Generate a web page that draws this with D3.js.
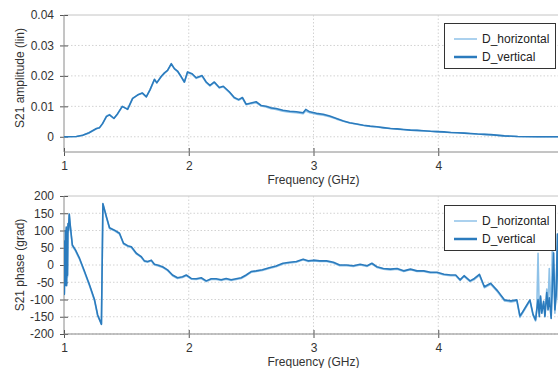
<!DOCTYPE html>
<html><head><meta charset="utf-8">
<script src="https://cdn.jsdelivr.net/npm/d3@7"></script>
<style>
body{margin:0;background:#fff;}
svg{display:block;font-family:"Liberation Sans",Arial,sans-serif;}
</style></head><body>
<svg id="c" width="558" height="368"></svg>
<script>
// ---------- data ----------
const seriesNames = ["D_horizontal", "D_vertical"];
const xTicks = [1, 2, 3, 4];
const ampTicks = [0, 0.01, 0.02, 0.03, 0.04];
const ampTickLabels = ["0", "0.01", "0.02", "0.03", "0.04"];
const phaseTicks = [-200, -150, -100, -50, 0, 50, 100, 150, 200];

const freqAmp = [1.0,1.1,1.15,1.2,1.26,1.285,1.31,1.34,1.365,1.4,1.43,1.467,1.51,1.55,1.59,1.627,1.66,1.69,1.725,1.744,1.78,1.805,1.83,1.86,1.885,1.91,1.94,1.965,1.99,2.027,2.06,2.107,2.14,2.17,2.205,2.245,2.277,2.325,2.365,2.4,2.43,2.46,2.5,2.54,2.58,2.62,2.66,2.70,2.755,2.81,2.863,2.917,2.938,2.97,3.024,3.078,3.13,3.185,3.24,3.29,3.347,3.40,3.454,3.508,3.56,3.616,3.67,3.723,3.777,3.83,3.884,3.938,3.99,4.046,4.1,4.153,4.207,4.26,4.315,4.37,4.422,4.53,4.637,4.8,5.0];
const ampVertical = [0,0.0001,0.0005,0.0013,0.0027,0.003,0.0044,0.0066,0.0072,0.006,0.0076,0.01,0.009,0.0126,0.0137,0.0144,0.0131,0.0155,0.0189,0.0177,0.0199,0.021,0.0218,0.024,0.0224,0.0216,0.0197,0.018,0.0213,0.0207,0.0194,0.0201,0.018,0.0169,0.018,0.0162,0.0166,0.0148,0.0129,0.0122,0.0129,0.0107,0.0111,0.0115,0.0103,0.01,0.0095,0.0093,0.0087,0.0084,0.0082,0.0079,0.009,0.0082,0.0077,0.0074,0.0068,0.006,0.0052,0.0046,0.0042,0.0038,0.0035,0.0033,0.003,0.0027,0.0026,0.0024,0.0022,0.0021,0.002,0.0018,0.0017,0.0016,0.0014,0.0013,0.0012,0.0011,0.0009,0.0008,0.0007,0.0003,0.0001,0,0];
const ampHorizontal = [0,0.0001,0.0005,0.0012,0.0026,0.003,0.0043,0.0068,0.0073,0.0061,0.0075,0.0099,0.0091,0.0125,0.0138,0.0143,0.0132,0.0154,0.0187,0.0178,0.0197,0.0208,0.0217,0.0238,0.0223,0.0214,0.0196,0.0179,0.0211,0.0205,0.0192,0.0199,0.0178,0.0167,0.0178,0.016,0.0164,0.0146,0.0127,0.012,0.0127,0.0105,0.0109,0.0112,0.0101,0.0098,0.0092,0.009,0.0084,0.0081,0.0079,0.0076,0.0085,0.0079,0.0074,0.0071,0.0066,0.0058,0.0051,0.0045,0.0041,0.0037,0.0034,0.0032,0.0029,0.0027,0.0025,0.0023,0.0022,0.0021,0.0019,0.0018,0.0017,0.0015,0.0014,0.0013,0.0012,0.001,0.0009,0.0008,0.0006,0.0003,0.0001,0,0];

const freqPhase = [1.0,1.003,1.006,1.009,1.012,1.015,1.018,1.021,1.025,1.028,1.032,1.036,1.042,1.05,1.067,1.093,1.125,1.165,1.205,1.245,1.27,1.30,1.312,1.34,1.365,1.405,1.445,1.477,1.51,1.54,1.58,1.62,1.645,1.67,1.70,1.725,1.75,1.79,1.83,1.87,1.91,1.95,1.98,2.02,2.06,2.10,2.14,2.18,2.22,2.26,2.30,2.34,2.38,2.42,2.46,2.50,2.54,2.59,2.645,2.70,2.755,2.81,2.863,2.917,2.957,3.0,3.05,3.105,3.16,3.21,3.266,3.32,3.374,3.43,3.468,3.508,3.56,3.616,3.67,3.723,3.777,3.83,3.884,3.938,3.99,4.046,4.10,4.14,4.175,4.207,4.255,4.29,4.33,4.37,4.42,4.476,4.53,4.583,4.63,4.655,4.675,4.71,4.735,4.76,4.78,4.79,4.80,4.81,4.82,4.83,4.845,4.855,4.87,4.88,4.89,4.905,4.915,4.925,4.935,4.945,4.955,4.965,4.98];
const phaseVertical = [60,-85,70,-60,100,-55,110,-60,95,-30,120,100,148,116,58,43,19,-19,-58,-101,-145,-172,178,140,108,101,92,63,56,53,34,24,12,10,14,2,0,-5,-14,-29,-37,-34,-29,-39,-40,-37,-46,-40,-40,-43,-39,-43,-40,-37,-29,-19,-17,-14,-8,-3,5,8,10,17,12,14,12,12,8,0,0,-2,2,-2,5,-5,-10,-12,-10,-17,-12,-17,-17,-21,-21,-27,-29,-29,-43,-31,-46,-39,-27,-63,-53,-75,-101,-104,-101,-148,-137,-116,-101,-143,-159,-130,-100,-150,-90,-140,-105,-150,-80,-130,-95,-155,-60,35,-130,-90,90,-100,-50];
const phaseHorizontal = [55,-80,65,-55,95,-50,105,-55,90,-35,115,95,145,113,55,40,16,-22,-61,-104,-148,-170,176,138,106,99,90,61,54,51,32,22,10,8,12,0,-2,-7,-16,-31,-39,-36,-31,-41,-42,-39,-48,-42,-42,-45,-41,-45,-42,-39,-31,-21,-19,-16,-10,-5,3,6,8,15,10,12,10,10,6,-2,-2,-4,0,-4,3,-7,-12,-14,-12,-19,-14,-19,-19,-23,-23,-29,-31,-31,-45,-33,-48,-42,-30,-66,-56,-78,-104,-107,-104,-152,-140,-119,-104,-146,-162,-125,34,-140,-95,-130,-110,-145,-70,-120,-10,-150,63,-20,-140,-60,40,-110,-30];

// ---------- drawing ----------
const colH = "#8fc2e8", colV = "#2b7bbd";
const svg = d3.select("#c");
const x = d3.scaleLinear().domain([1, 5]).range([64, 563]);

function panel(cfg) {
  const y = d3.scaleLinear().domain(cfg.ydom).range(cfg.yrange);
  const g = svg.append("g");
  const top = cfg.yrange[1], bottom = cfg.yrange[0];
  // grid
  g.selectAll(".hg").data(cfg.yticks).enter().append("line")
    .attr("x1", 64).attr("x2", 563).attr("y1", d => y(d)).attr("y2", d => y(d))
    .attr("stroke", (d, i) => i === cfg.yticks.length - 1 ? "#c4c4c4" : "#d2d2d2")
    .attr("stroke-dasharray", (d, i) => i === cfg.yticks.length - 1 ? null : "1.5,2");
  g.selectAll(".vg").data(xTicks.slice(1)).enter().append("line")
    .attr("x1", d => x(d)).attr("x2", d => x(d)).attr("y1", top).attr("y2", bottom)
    .attr("stroke", "#d2d2d2").attr("stroke-dasharray", "1.5,2");
  // axes
  const ya = g.append("g").attr("transform", "translate(64,0)")
    .call(d3.axisLeft(y).tickValues(cfg.yticks).tickFormat((d, i) => cfg.ylabels[i]).tickSizeOuter(0).tickSize(4).tickPadding(6));
  ya.select(".domain").remove();
  ya.selectAll(".tick line").attr("x1", 4).attr("x2", -4).attr("stroke", "#555");
  ya.selectAll("text").attr("font-size", 12).attr("fill", "#333").attr("font-family", "Liberation Sans, Arial, sans-serif");
  g.append("line").attr("x1", 64).attr("x2", 64).attr("y1", top).attr("y2", bottom).attr("stroke", "#8a8a8a");
  const xa = g.append("g").attr("transform", `translate(0,${bottom})`)
    .call(d3.axisBottom(x).tickValues(xTicks).tickFormat(d3.format("d")).tickSizeOuter(0).tickSize(4).tickPadding(5));
  xa.select(".domain").remove();
  xa.selectAll(".tick line").attr("y1", -4).attr("y2", 4).attr("stroke", "#555");
  xa.selectAll("text").attr("font-size", 12).attr("fill", "#333").attr("font-family", "Liberation Sans, Arial, sans-serif");
  g.append("line").attr("x1", 64).attr("x2", 563).attr("y1", bottom).attr("y2", bottom).attr("stroke", "#8a8a8a");
  // titles
  g.append("text").attr("x", x(3)).attr("y", bottom + 32).attr("text-anchor", "middle")
    .attr("font-size", 12).attr("fill", "#333").text("Frequency (GHz)");
  g.append("text").attr("transform", `translate(24,${cfg.ytitleY}) rotate(-90)`).attr("text-anchor", "middle")
    .attr("font-size", 12).attr("fill", "#333").text(cfg.ytitle);
  // lines
  const clipId = "clip" + cfg.id;
  svg.append("clipPath").attr("id", clipId).append("rect")
    .attr("x", 64).attr("y", top - 2).attr("width", 499).attr("height", bottom - top + 2);
  const line = d3.line().x((d, i) => x(cfg.freq[i])).y(d => y(d));
  g.append("path").datum(cfg.h).attr("d", line).attr("fill", "none")
    .attr("stroke", colH).attr("stroke-width", 1.6).attr("stroke-linejoin", "round").attr("clip-path", `url(#${clipId})`);
  g.append("path").datum(cfg.v).attr("d", line).attr("fill", "none")
    .attr("stroke", colV).attr("stroke-width", 1.6).attr("stroke-linejoin", "round").attr("clip-path", `url(#${clipId})`);
  // legend
  const lg = g.append("g").attr("transform", `translate(444,${cfg.legY})`);
  lg.append("rect").attr("x", 0.5).attr("y", 0.5).attr("width", 111).attr("height", 45)
    .attr("fill", "#fff").attr("stroke", "#333").attr("stroke-width", 1);
  const items = [{n: seriesNames[0], c: colH, w: 1.5}, {n: seriesNames[1], c: colV, w: 2.5}];
  items.forEach((it, i) => {
    const yy = 16 + i * 18;
    lg.append("line").attr("x1", 10).attr("x2", 33).attr("y1", yy).attr("y2", yy)
      .attr("stroke", it.c).attr("stroke-width", it.w);
    lg.append("text").attr("x", 38).attr("y", yy + 4).attr("font-size", 12).attr("fill", "#222").text(it.n);
  });
}

panel({id: "a", ydom: [-0.005, 0.04], yrange: [152, 15], yticks: ampTicks, ylabels: ampTickLabels,
  ytitle: "S21 amplitude (lin)", ytitleY: 78, freq: freqAmp, h: ampHorizontal, v: ampVertical, legY: 23});
panel({id: "b", ydom: [-200, 200], yrange: [334, 196], yticks: phaseTicks, ylabels: phaseTicks.map(String),
  ytitle: "S21 phase (grad)", ytitleY: 265, freq: freqPhase, h: phaseHorizontal, v: phaseVertical, legY: 205});
</script>
</body></html>
